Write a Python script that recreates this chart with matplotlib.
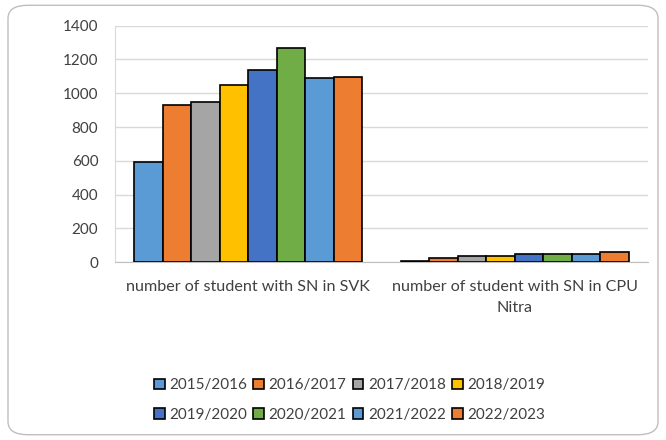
import numpy as np
import matplotlib.pyplot as plt
import matplotlib.transforms as mtransforms
from matplotlib.patches import FancyBboxPatch

# Data
categories = ['number of student with SN in SVK', 'number of student with SN in CPU\nNitra']
years = ['2015/2016', '2016/2017', '2017/2018', '2018/2019',
         '2019/2020', '2020/2021', '2021/2022', '2022/2023']
svk = [595, 930, 948, 1050, 1138, 1270, 1088, 1094]
cpu = [5, 24, 33, 38, 45, 49, 49, 57]
colors = ['#5B9BD5', '#ED7D31', '#A5A5A5', '#FFC000',
          '#4472C4', '#70AD47', '#5B9BD5', '#ED7D31']

plt.rcParams['font.family'] = ['Lato', 'DejaVu Sans']

fig = plt.figure(figsize=(6.66, 4.4), dpi=100)
ax = fig.add_axes([0.1727, 0.4045, 0.8003, 0.537])

# rounded chart border
border = FancyBboxPatch((0.012, 0.012), 0.976, 0.976, boxstyle='round,pad=0,rounding_size=0.03',
                        transform=fig.transFigure, facecolor='none', edgecolor='#BFBFBF', lw=1)
fig.patches.append(border)

n = len(years)
group_w = 0.855
bw = group_w / n
x = np.arange(len(categories))
bars = []
for i in range(n):
    vals = [svk[i], cpu[i]]
    b = ax.bar(x - group_w / 2 + bw * (i + 0.5), vals, width=bw, color=colors[i],
               edgecolor='black', linewidth=1.2, label=years[i], zorder=3)
    bars.append(b)

ax.set_xlim(-0.5, 1.5)
ax.set_ylim(0, 1400)
ax.set_yticks(range(0, 1401, 200))
ax.yaxis.grid(True, color='#D9D9D9', lw=1, zorder=0)
ax.set_xticks(x)
ax.set_xticklabels([])
# category labels, one text per line so each line is centred
trans = mtransforms.blended_transform_factory(ax.transData, ax.transAxes)
for xi, cat in zip(x, categories):
    for j, line in enumerate(cat.split('\n')):
        ax.text(xi, -0.075 - j * 0.089, line, transform=trans, ha='center', va='top',
                fontsize=11.6, color='#404040')
ax.tick_params(axis='both', length=0, labelcolor='#404040')
ax.tick_params(axis='y', labelsize=11, pad=12)
for s in ['top', 'right']:
    ax.spines[s].set_visible(False)
ax.spines['left'].set_color('#D9D9D9')
ax.spines['bottom'].set_color('#BFBFBF')

# legend filled row by row
order = [0, 4, 1, 5, 2, 6, 3, 7]
fig.legend([bars[k] for k in order], [years[k] for k in order],
           loc='center', bbox_to_anchor=(0.525, 0.091), ncol=4, frameon=False,
           fontsize=11, handlelength=0.7, handleheight=0.7, handletextpad=0.3,
           columnspacing=0.4, labelspacing=1.0, labelcolor='#404040')

fig.savefig('out.png', dpi=100)
